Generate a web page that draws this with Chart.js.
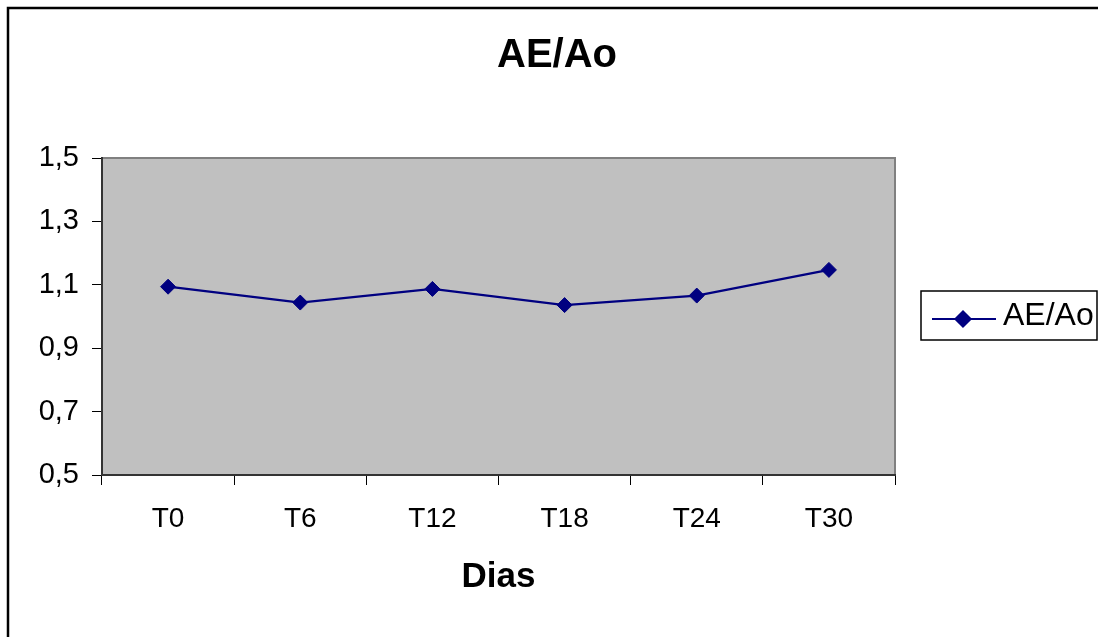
<!DOCTYPE html>
<html>
<head>
<meta charset="utf-8">
<script src="https://cdn.jsdelivr.net/npm/chart.js@4/dist/chart.umd.min.js"></script>
<style>
  html, body { margin: 0; padding: 0; background: #fff; }
  canvas { display: block; }
</style>
</head>
<body>
<canvas id="chart" width="1098" height="637"></canvas>
<script>
// Chart data
const chartTitle = 'AE/Ao';
const xAxisTitle = 'Dias';
const categories = ['T0', 'T6', 'T12', 'T18', 'T24', 'T30'];
const seriesLabel = 'AE/Ao';
const seriesValues = [1.094, 1.044, 1.087, 1.036, 1.066, 1.147];
const yTicks = [0.5, 0.7, 0.9, 1.1, 1.3, 1.5];

const lineColor = '#000080';
const fontFamily = '"Liberation Sans", Arial, sans-serif';

// Gray plot background, plot frame, outer border, title and legend
const excelLook = {
    id: 'excelLook',
    beforeDraw(chart) {
        const { ctx, chartArea: a } = chart;
        ctx.save();
        ctx.fillStyle = '#C0C0C0';
        ctx.fillRect(a.left, a.top, a.right - a.left, a.bottom - a.top);
        ctx.strokeStyle = '#808080';
        ctx.lineWidth = 2;
        ctx.beginPath();
        ctx.moveTo(a.left, a.top);
        ctx.lineTo(a.right, a.top);
        ctx.lineTo(a.right, a.bottom);
        ctx.stroke();
        ctx.restore();
    },
    afterDraw(chart) {
        const { ctx } = chart;
        ctx.save();
        // outer frame (right and bottom edges fall outside the picture)
        ctx.strokeStyle = '#000';
        ctx.lineWidth = 2.5;
        ctx.strokeRect(8, 8, 1120, 660);

        // title
        ctx.fillStyle = '#000';
        ctx.font = 'bold 40px ' + fontFamily;
        ctx.textAlign = 'center';
        ctx.textBaseline = 'middle';
        ctx.fillText(chartTitle, 557, 56);

        // legend box
        ctx.strokeStyle = '#000';
        ctx.lineWidth = 1.5;
        ctx.fillStyle = '#fff';
        ctx.fillRect(921, 291, 176, 49);
        ctx.strokeRect(921, 291, 176, 49);
        const ds = chart.data.datasets[0];
        ctx.strokeStyle = ds.borderColor;
        ctx.lineWidth = ds.borderWidth;
        ctx.beginPath();
        ctx.moveTo(932, 319);
        ctx.lineTo(996, 319);
        ctx.stroke();
        Chart.helpers.drawPoint(ctx, {
            pointStyle: 'rectRot', radius: ds.pointRadius, borderWidth: 1
        }, 963, 319);
        ctx.fillStyle = ds.pointBackgroundColor;
        ctx.strokeStyle = ds.pointBorderColor;
        ctx.fill();
        ctx.fillStyle = '#000';
        ctx.font = '32px ' + fontFamily;
        ctx.textAlign = 'left';
        ctx.textBaseline = 'middle';
        ctx.fillText(ds.label, 1003, 316);
        ctx.restore();
    }
};

new Chart(document.getElementById('chart'), {
    type: 'line',
    data: {
        labels: categories,
        datasets: [{
            label: seriesLabel,
            data: seriesValues,
            borderColor: lineColor,
            borderWidth: 2.2,
            backgroundColor: lineColor,
            pointStyle: 'rectRot',
            pointRadius: 7.5,
            pointBackgroundColor: lineColor,
            pointBorderColor: lineColor,
            pointBorderWidth: 1,
            tension: 0,
            fill: false
        }]
    },
    options: {
        responsive: false,
        animation: false,
        devicePixelRatio: 1,
        layout: { padding: { left: 0, top: 158, right: 203, bottom: 0 } },
        plugins: {
            legend: { display: false },
            title: { display: false },
            tooltip: { enabled: false }
        },
        scales: {
            x: {
                offset: true,
                afterFit: s => { s.height = 162; },
                grid: {
                    offset: true,
                    drawOnChartArea: false,
                    drawTicks: true,
                    tickLength: 10,
                    tickColor: '#000',
                    tickWidth: 1
                },
                border: { display: true, color: '#333', width: 2 },
                ticks: {
                    color: '#000',
                    font: { family: fontFamily, size: 28 },
                    padding: 17,
                    maxRotation: 0,
                    autoSkip: false
                },
                title: {
                    display: true,
                    text: xAxisTitle,
                    color: '#000',
                    font: { family: fontFamily, size: 35, weight: 'bold' },
                    padding: { top: 0, bottom: 39 }
                }
            },
            y: {
                min: yTicks[0],
                max: yTicks[yTicks.length - 1],
                afterFit: s => { s.width = 102; },
                afterBuildTicks: s => { s.ticks = yTicks.map(v => ({ value: v })); },
                grid: {
                    drawOnChartArea: false,
                    drawTicks: true,
                    tickLength: 10,
                    tickColor: '#000',
                    tickWidth: 1
                },
                border: { display: true, color: '#333', width: 2 },
                ticks: {
                    color: '#000',
                    font: { family: fontFamily, size: 29 },
                    padding: 13,
                    callback: v => v.toFixed(1).replace('.', ',')
                }
            }
        }
    },
    plugins: [excelLook]
});
</script>
</body>
</html>
